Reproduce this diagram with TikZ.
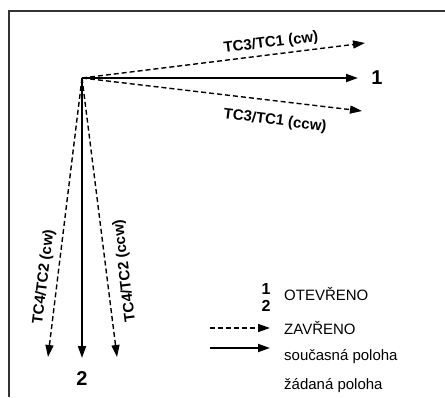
\documentclass[tikz,border=0pt]{standalone}
\usepackage{fontspec}
\setmainfont{Liberation Sans}
\usetikzlibrary{arrows.meta}
\tikzset{
  frameline/.style={draw=black!80, line width=1.3pt},
  solidarrow/.style={line width=1.8pt, -{Triangle[length=12pt,width=8pt]}},
  dasharrow/.style={line width=1.4pt, dash pattern=on 5pt off 3pt, -{Triangle[length=12pt,width=8pt]}},
  lab/.style={font=\fontsize{15pt}{17pt}\selectfont\bfseries, inner sep=0pt},
  bignum/.style={font=\fontsize{20pt}{22pt}\selectfont\bfseries, inner sep=0pt},
  smallnum/.style={font=\fontsize{16pt}{18pt}\selectfont\bfseries, inner sep=0pt},
  legtext/.style={inner sep=0pt, anchor=west}
}
\newcommand{\legfont}{\fontsize{15pt}{17pt}\selectfont}
\begin{document}
\begin{tikzpicture}[x=1pt,y=-1pt]
\useasboundingbox (0,0) rectangle (445,397);
\coordinate (fr1) at (445,11);
\coordinate (fr2) at (9,11);
\coordinate (fr3) at (9,397);
\draw[frameline] (fr1) -- (fr2) -- (fr3);

\coordinate (O) at (82,78);
\coordinate (t1) at (358,78);
\coordinate (tcw) at (365,43);
\coordinate (tccw) at (362,111);
\coordinate (t2) at (82,358);
\coordinate (dcw) at (48,357);
\coordinate (dccw) at (117,357);

\draw[dasharrow] (O) -- (tcw);
\draw[dasharrow] (O) -- (tccw);
\draw[dasharrow] (O) -- (dcw);
\draw[dasharrow] (O) -- (dccw);
\draw[solidarrow] (O) -- (t1);
\draw[solidarrow] (O) -- (t2);

\node[lab, rotate=7] (lcw) at (271,43) {TC3/TC1 (cw)};
\node[lab, rotate=-7] (lccw) at (275,121) {TC3/TC1 (ccw)};
\node[lab, rotate=83] (ldcw) at (44,277) {TC4/TC2 (cw)};
\node[lab, rotate=97] (ldccw) at (125,271) {TC4/TC2 (ccw)};

\node[bignum] (n1) at (377,78) {1};
\node[bignum] (n2) at (82,379) {2};

\node[smallnum] (g1) at (266,289) {1};
\node[smallnum] (g2) at (266,306) {2};
\node[legtext] (otev) at (284,294) {\legfont OTEVŘENO};
\node[legtext] (zav) at (284,328) {\legfont ZAVŘENO};
\node[legtext] (soucas) at (284,357) {\legfont současná poloha};
\node[legtext] (zad) at (284,386) {\legfont žádaná poloha};

\coordinate (la1) at (210,328);
\coordinate (la2) at (270,328);
\coordinate (lb1) at (210,348);
\coordinate (lb2) at (270,348);
\draw[dasharrow] (la1) -- (la2);
\draw[solidarrow] (lb1) -- (lb2);
\end{tikzpicture}
\end{document}
